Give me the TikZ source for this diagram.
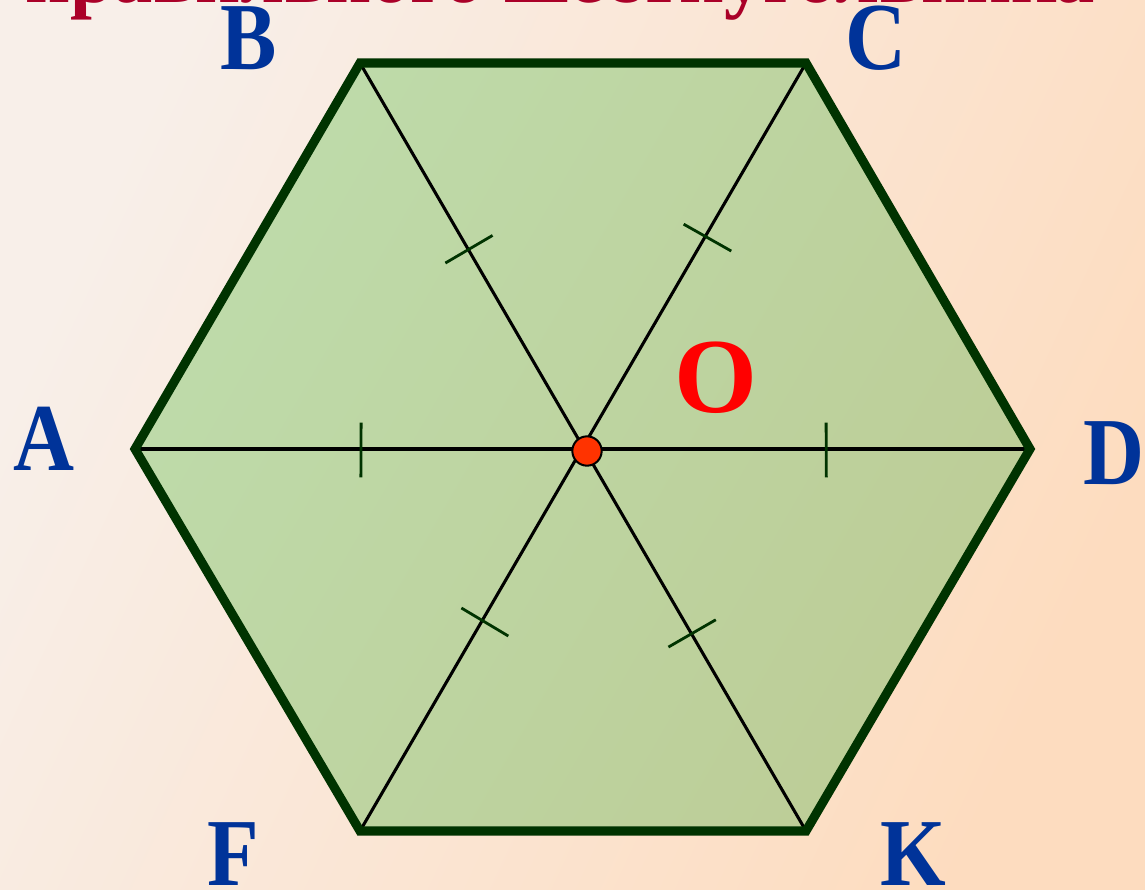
\documentclass[tikz,border=0pt]{standalone}
\usepackage{fontspec}
\setmainfont{Liberation Serif}
\usetikzlibrary{calc}
\definecolor{bgA}{HTML}{F8EFE9}
\definecolor{bgB}{HTML}{FDDCBF}
\definecolor{hexA}{HTML}{BEDBAA}
\definecolor{hexB}{HTML}{BDCD97}
\definecolor{edge}{HTML}{003300}
\definecolor{lbl}{HTML}{003399}
\definecolor{ttl}{HTML}{AA0028}
\definecolor{dot}{HTML}{FF3300}
\tikzset{
  vlabel/.style={font=\bfseries\fontsize{72}{72}\selectfont, text=lbl, inner sep=0pt, xscale=0.88},
  diag/.style={line width=2.3pt, black},
  tickmark/.style={line width=2.1pt, edge},
  rim/.style={line width=6.8pt, edge, line join=miter}
}
\begin{document}
\begin{tikzpicture}[x=0.75pt,y=-0.75pt]
\useasboundingbox (0,0) rectangle (1145,889);
\shade[left color=bgA, right color=bgB, shading angle=65] (0,0) rectangle (1145,889);
\begin{scope}
\clip (0,0) rectangle (1145,889);
\node[font=\bfseries\fontsize{62}{62}\selectfont, text=ttl, anchor=base, inner sep=0pt, xscale=0.95] (title) at (560,2) {правильного шестиугольника};
\coordinate (A) at (135,449);
\coordinate (B) at (360,63);
\coordinate (C) at (806,63);
\coordinate (D) at (1030,449);
\coordinate (K) at (806,831);
\coordinate (F) at (360,831);
\coordinate (O) at (587,451);
\shade[left color=hexA, right color=hexB, shading angle=60] (A) -- (B) -- (C) -- (D) -- (K) -- (F) -- cycle;
\draw[diag] (A) -- (D);
\draw[diag] (B) -- (K);
\draw[diag] (C) -- (F);
\foreach \v/\f in {A/0.5, B/0.52, C/0.55, D/0.54, F/0.45, K/0.48} {
  \coordinate (m\v) at ($(O)!\f!(\v)$);
  \draw[tickmark] ($(m\v)!20.5pt!90:(\v)$) -- ($(m\v)!20.5pt!-90:(\v)$);
}
\draw[rim] (A) -- (B) -- (C) -- (D) -- (K) -- (F) -- cycle;
\node[circle, draw=black, line width=1.5pt, fill=dot, minimum size=22pt, inner sep=0pt] (Odot) at (O) {};
\node[font=\bfseries\fontsize{80}{80}\selectfont, text=red, anchor=base, inner sep=0pt] (Olab) at (716,412) {O};
\node[vlabel, anchor=base] (lA) at (44,470) {A};
\node[vlabel, anchor=base] (lB) at (249,69) {B};
\node[vlabel, anchor=base] (lC) at (876,69) {C};
\node[vlabel, anchor=base west] (lD) at (1083,484) {D};
\node[vlabel, anchor=base] (lF) at (233,885) {F};
\node[vlabel, anchor=base] (lK) at (913,885) {K};
\end{scope}
\end{tikzpicture}
\end{document}
